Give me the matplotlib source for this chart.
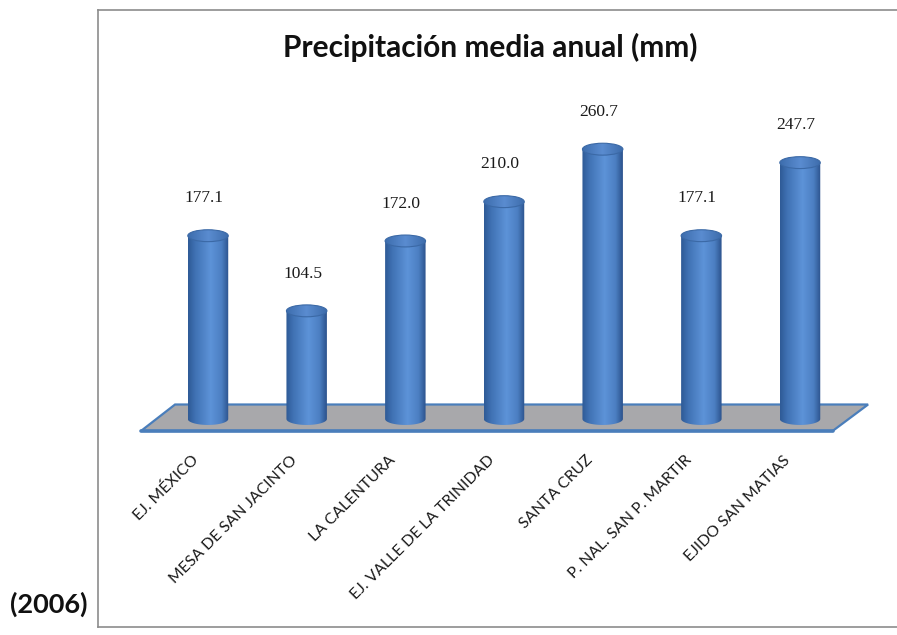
import numpy as np
import matplotlib
matplotlib.use("Agg")
import matplotlib.pyplot as plt
from matplotlib.patches import Ellipse, Polygon, PathPatch
from matplotlib.path import Path
from matplotlib.colors import LinearSegmentedColormap

# data
stations = ["EJ. MÉXICO", "MESA DE SAN JACINTO", "LA CALENTURA",
            "EJ. VALLE DE LA TRINIDAD", "SANTA CRUZ", "P. NAL. SAN P. MARTIR",
            "EJIDO SAN MATIAS"]
rain_mm = [177.1, 104.5, 172.0, 210.0, 260.7, 177.1, 247.7]
title = "Precipitación media anual (mm)"
year_note = "(2006)"

W, H = 897, 635
fig = plt.figure(figsize=(W / 100, H / 100), dpi=100)
ax = fig.add_axes([0, 0, 1, 1])
ax.set_axis_off()

# pixel layout of the category axis and value axis
x0_px, step_px = 208.0, 98.67
y0_px, mm_px = 419.0, 1.035
ax.set_xlim(-x0_px / step_px, (W - x0_px) / step_px)
ax.set_ylim((y0_px - H) / mm_px, y0_px / mm_px)


def vy(py):
    # data y for a pixel row counted from the top
    return (y0_px - py) / mm_px


# chart frame (open on the right)
frame = dict(color="#8c8c8c", lw=1.2)
fig.add_artist(plt.Line2D([98 / W, 98 / W], [1 - 627 / H, 1 - 10 / H], **frame))
fig.add_artist(plt.Line2D([98 / W, 1.01], [1 - 10 / H, 1 - 10 / H], **frame))
fig.add_artist(plt.Line2D([98 / W, 1.01], [1 - 627 / H, 1 - 627 / H], **frame))

# floor
fy, by = vy(431), vy(404.5)
floor = Polygon([(-0.68, fy), (-0.334, by), (6.69, by), (6.33, fy)],
                closed=True, facecolor="#a8a8ab", edgecolor="#4a7ebb",
                lw=1.6, zorder=1)
ax.add_patch(floor)
ax.plot([-0.68, 6.33], [fy, fy], color="#4a7ebb", lw=2.6,
        solid_capstyle="round", zorder=1)

body_cmap = LinearSegmentedColormap.from_list(
    "body", [(0, "#2e5a96"), (0.18, "#4072b4"), (0.55, "#5d93d8"),
             (0.82, "#4c7fc2"), (1, "#2b528c")])
top_cmap = LinearSegmentedColormap.from_list(
    "top", [(0, "#3d6dad"), (0.5, "#5a8cd0"), (1, "#3d6cab")])

bw = 0.41
eh = 11.5
grad = np.linspace(0, 1, 256).reshape(1, -1)
t = np.linspace(np.pi, 2 * np.pi, 60)

for i, v in enumerate(rain_mm):
    xl, xr = i - bw / 2, i + bw / 2
    arc = np.column_stack([i + bw / 2 * np.cos(t), eh / 2 * np.sin(t)])
    pts = np.vstack([[xl, v], arc, [xr, v], [xl, v]])
    body = PathPatch(Path(pts), facecolor="none", edgecolor="none", zorder=2)
    ax.add_patch(body)
    im = ax.imshow(grad, cmap=body_cmap, aspect="auto", zorder=2,
                   extent=[xl, xr, -eh, v + eh], interpolation="bilinear")
    im.set_clip_path(body)

    top = Ellipse((i, v), bw, eh, facecolor="none", edgecolor="#3b69a6",
                  lw=0.8, zorder=4)
    ax.add_patch(top)
    imt = ax.imshow(grad, cmap=top_cmap, aspect="auto", zorder=3,
                    extent=[xl, xr, v - eh, v + eh], interpolation="bilinear")
    imt.set_clip_path(top)

    ax.text(i - 0.04, v + 36, f"{v:.1f}", ha="center", va="center",
            fontsize=12.5, family="Liberation Serif", color="#1a1a1a",
            zorder=5)

    ax.text(i - 0.12, vy(458), stations[i], rotation=45,
            rotation_mode="anchor", ha="right", va="center",
            fontsize=11.3, family="Lato", color="#1a1a1a")

fig.text(490 / W, 1 - 47 / H, title, ha="center", va="center",
         fontsize=21.5, fontweight="bold", family="Lato", color="#111111")
fig.text(10 / W, 1 - 604 / H, year_note, ha="left", va="center",
         fontsize=19.5, fontweight="bold", family="Lato", color="#111111")

fig.savefig("out.png", dpi=100)
